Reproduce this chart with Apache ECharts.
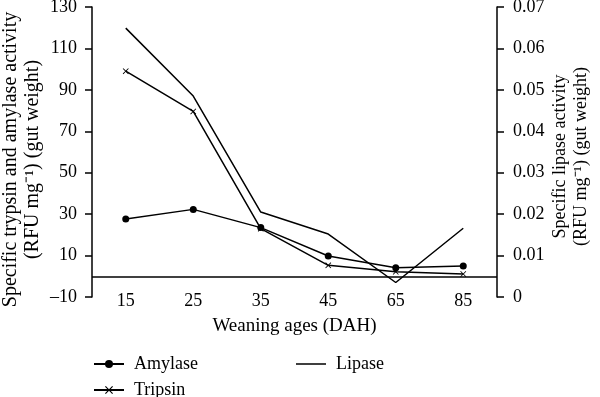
<!DOCTYPE html>
<html>
<head>
<meta charset="utf-8">
<script src="https://cdn.jsdelivr.net/npm/echarts@6/dist/echarts.min.js"></script>
<style>
  html, body { margin: 0; padding: 0; background: #fff; }
  #chart { width: 600px; height: 397px; }
</style>
</head>
<body>
<div id="chart"></div>
<script>
// weaning ages (DAH)
const ages = ["15", "25", "35", "45", "65", "85"];
// specific activities
const amylase = [27.7, 32.3, 23.5, 9.8, 4.1, 5.0];
const tripsin = [99, 79.6, 23, 5.3, 2.2, 1.1];
const lipase = [0.0649, 0.0485, 0.0205, 0.0152, 0.0035, 0.0166];

const FONT = "Liberation Serif";
const crossPath = "path://M0,1L1,0L5,4L9,0L10,1L6,5L10,9L9,10L5,6L1,10L0,9L4,5Z";
// plain line for the legend (empty subpaths keep the box height)
const lineIcon = "path://M0,0L0,0ZM0,4.3L30,4.3L30,5.7L0,5.7ZM0,10L0,10Z";
// trailing no-break spaces nudge the rotated titles a little downwards
const pad = (n) => "\u00A0".repeat(n);

const chart = echarts.init(document.getElementById("chart"));

const axisCommon = {
  axisLine: { show: true, lineStyle: { color: "#000", width: 1.5 } },
  axisTick: { show: true, length: 7, lineStyle: { color: "#000", width: 1.5 } },
  splitLine: { show: false },
  nameLocation: "middle",
  nameRotate: 90,
  nameMoveOverlap: false
};
const legendText = { color: "#000", fontFamily: FONT, fontSize: 18, padding: [0, 0, 0, 5] };

chart.setOption({
  animation: false,
  textStyle: { fontFamily: FONT },
  grid: { left: 92, right: 103, top: 7, bottom: 100, outerBoundsMode: "none", containLabel: false },
  legend: [
    {
      data: ["Amylase", "Tripsin"],
      orient: "vertical",
      left: 93,
      top: 355,
      height: 60,
      padding: 0,
      itemWidth: 30,
      itemHeight: 10,
      itemGap: 8,
      textStyle: legendText
    },
    {
      data: [{ name: "Lipase", icon: lineIcon }],
      left: 296,
      top: 355,
      padding: 0,
      itemWidth: 30,
      itemHeight: 10,
      textStyle: legendText
    }
  ],
  xAxis: {
    type: "category",
    data: ages,
    axisLine: { show: false },
    axisTick: { show: false },
    axisLabel: { color: "#000", fontFamily: FONT, fontSize: 18, margin: -5 },
    name: "Weaning ages (DAH)",
    nameLocation: "middle",
    nameGap: 20,
    nameTextStyle: { color: "#000", fontFamily: FONT, fontSize: 19 }
  },
  yAxis: [
    Object.assign({}, axisCommon, {
      type: "value",
      min: -10,
      max: 130,
      interval: 20,
      axisLabel: {
        color: "#000", fontFamily: FONT, fontSize: 18, margin: 15,
        formatter: (v) => String(v).replace("-", "\u2013")
      },
      name: "Specific trypsin and amylase activity" + pad(3) + "\n(RFU mg\u207B\u00B9) (gut weight)" + pad(3),
      nameGap: 48,
      nameTextStyle: { color: "#000", fontFamily: FONT, fontSize: 20, lineHeight: 22 }
    }),
    Object.assign({}, axisCommon, {
      type: "value",
      position: "right",
      min: 0,
      max: 0.07,
      interval: 0.01,
      axisLabel: { color: "#000", fontFamily: FONT, fontSize: 18, margin: 16 },
      name: "Specific lipase activity" + pad(2) + "\n(RFU mg\u207B\u00B9) (gut weight)" + pad(2),
      nameGap: 53,
      nameTextStyle: { color: "#000", fontFamily: FONT, fontSize: 18, lineHeight: 21 }
    })
  ],
  series: [
    {
      name: "Amylase",
      type: "line",
      data: amylase,
      symbol: "circle",
      symbolSize: 7,
      lineStyle: { color: "#000", width: 1.5 },
      itemStyle: { color: "#000" },
      markLine: {
        silent: true,
        symbol: "none",
        label: { show: false },
        lineStyle: { color: "#000", width: 1.5, type: "solid" },
        data: [{ yAxis: 0 }]
      }
    },
    {
      name: "Tripsin",
      type: "line",
      data: tripsin,
      symbol: crossPath,
      symbolSize: 6,
      lineStyle: { color: "#000", width: 1.5 },
      itemStyle: { color: "#000" }
    },
    {
      name: "Lipase",
      type: "line",
      yAxisIndex: 1,
      data: lipase,
      symbol: "none",
      lineStyle: { color: "#000", width: 1.5 },
      itemStyle: { color: "#000" }
    }
  ]
});
</script>
</body>
</html>
